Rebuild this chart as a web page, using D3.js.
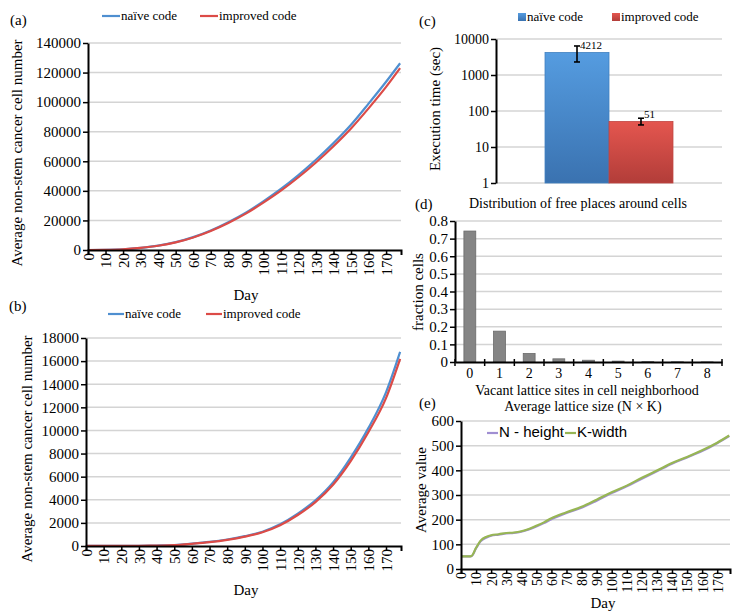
<!DOCTYPE html>
<html lang="en">
<head>
<meta charset="UTF-8">
<title>Cancer cell simulation</title>
<script src="https://d3js.org/d3.v7.min.js"></script>
<style>
  body { margin: 0; background: #fff; }
  text { font-family: "Liberation Serif", "Times New Roman", serif; fill: #000; }
</style>
</head>
<body>
<script>
// (a) all non-stem cells, (b) second run — every 10 days
var days = [0, 10, 20, 30, 40, 50, 60, 70, 80, 90, 100, 110, 120, 130, 140, 150, 160, 170, 178];
var naiveA = [0, 100, 500, 1500, 3000, 5300, 8700, 13200, 18800, 25300, 32900, 41300, 50700, 61000, 72300, 84700, 99000, 113800, 126300];
var improvedA = [0, 100, 480, 1450, 2900, 5150, 8500, 12900, 18300, 24600, 32000, 40100, 49200, 59200, 70200, 82200, 95800, 110300, 123000];
var naiveB = [5, 8, 12, 20, 40, 80, 200, 350, 560, 850, 1240, 1880, 2800, 3950, 5500, 7650, 10200, 13300, 16800];
var improvedB = [5, 8, 12, 20, 38, 75, 190, 330, 530, 810, 1190, 1800, 2680, 3800, 5300, 7350, 9850, 12800, 16200];
var seriesNames = ["naïve code", "improved code"];

// (c) execution time
var execTimes = [4212, 51];
var execLow = [2300, 41];
var execHigh = [6400, 63];

// (d) distribution of free places
var vacantSites = [0, 1, 2, 3, 4, 5, 6, 7, 8];
var fractionCells = [0.743, 0.175, 0.048, 0.018, 0.010, 0.005, 0.002, 0.001, 0.0005];

// (e) lattice size
var latticeDays = [0, 5, 7, 10, 13, 17, 20, 25, 30, 35, 40, 45, 50, 55, 60, 70, 80, 90, 100, 110, 120, 130, 140, 150, 160, 170, 178];
var nHeight = [51, 51, 52, 84, 112, 128, 135, 139, 144, 146, 151, 160, 172, 186, 202, 227, 248, 277, 308, 335, 366, 396, 427, 452, 478, 510, 539];
var kWidth = [51, 51, 53, 86, 115, 131, 137, 141, 146, 148, 153, 162, 175, 189, 206, 230, 252, 281, 311, 338, 370, 399, 430, 454, 481, 512, 541];
var latticeNames = ["N - height", "K-width"];

var dayTicks = d3.range(0, 171, 10);

var svg = d3.select("body").append("svg")
    .attr("width", 734)
    .attr("height", 613)
    .style("background-color", "#fff");

var blue = "#4f8fd0", red = "#dc4b47";

function styleAxis(g, size) {
    g.attr("font-family", "Liberation Serif, Times New Roman, serif").attr("font-size", size);
    g.select(".domain").attr("stroke", "#000").attr("stroke-width", 2);
    g.selectAll(".tick line").attr("stroke", "#000").attr("stroke-width", 1.5);
    g.selectAll(".tick text").attr("fill", "#000");
}

function gridLines(ticks, y, x0, x1) {
    svg.append("g").selectAll("line")
        .data(ticks)
        .enter().append("line")
        .attr("x1", x0).attr("x2", x1)
        .attr("y1", function (d) { return y(d); })
        .attr("y2", function (d) { return y(d); })
        .attr("stroke", "#d4d4d4")
        .attr("stroke-width", 1.5);
}

function label(x, y, txt, size, anchor, rot) {
    var t = svg.append("text")
        .attr("x", x).attr("y", y)
        .attr("font-size", size)
        .attr("text-anchor", anchor || "start")
        .text(txt);
    if (rot) t.attr("transform", "rotate(-90," + x + "," + y + ")");
    return t;
}

// line chart used for (a), (b) and (e)
function lineChart(o) {
    var x = d3.scaleLinear().domain([0, 178.5]).range([o.x0, o.x1]);
    var y = d3.scaleLinear().domain([0, o.yMax]).range([o.y0, o.y1]);
    gridLines(o.yTicks.slice(1), y, o.x0, o.x1);

    var line = d3.line()
        .x(function (d) { return x(d[0]); })
        .y(function (d) { return y(d[1]); })
        .curve(d3.curveMonotoneX);
    o.series.forEach(function (s, i) {
        svg.append("path")
            .datum(o.xs.map(function (d, j) { return [d, s[j]]; }))
            .attr("fill", "none")
            .attr("stroke", o.colors[i])
            .attr("stroke-width", 2.2)
            .attr("d", line);
    });

    var ya = svg.append("g").attr("transform", "translate(" + o.x0 + ",0)")
        .call(d3.axisLeft(y).tickValues(o.yTicks).tickSize(5).tickSizeOuter(0).tickPadding(2).tickFormat(d3.format("d")));
    styleAxis(ya, o.yFont);

    var xa = svg.append("g").attr("transform", "translate(0," + o.y0 + ")")
        .call(d3.axisBottom(x).tickValues(dayTicks).tickSize(5).tickSizeOuter(5));
    styleAxis(xa, o.xFont);
    xa.selectAll(".tick text")
        .attr("x", -3).attr("y", 0).attr("dy", "0.35em")
        .attr("transform", "rotate(-90)")
        .attr("text-anchor", "end");
    return { x: x, y: y };
}

// ---------- (a) ----------
label(10, 25, "(a)", 15);
lineChart({
    x0: 88, x1: 401, y0: 250, y1: 43, yMax: 140000,
    yTicks: d3.range(0, 140001, 20000), yFont: 15, xFont: 15,
    xs: days, series: [naiveA, improvedA], colors: [blue, red]
});
label(17, 153, "Average non-stem cancer cell number", 15, "middle", true).attr("dy", "0.35em");
label(246, 300, "Day", 15, "middle");

function lineLegend(items, colors, xs, y, len, size, family) {
    items.forEach(function (name, i) {
        svg.append("line")
            .attr("x1", xs[i]).attr("x2", xs[i] + len)
            .attr("y1", y).attr("y2", y)
            .attr("stroke", colors[i]).attr("stroke-width", 2.2);
        var t = label(xs[i] + len + 1, y + 4, name, size);
        if (family) t.style("font-family", family);
    });
}
lineLegend(seriesNames, [blue, red], [102, 200], 16, 18, 13);

// ---------- (b) ----------
label(9, 311, "(b)", 15);
lineChart({
    x0: 86, x1: 401, y0: 546, y1: 338, yMax: 18000,
    yTicks: d3.range(0, 18001, 2000), yFont: 15, xFont: 15,
    xs: days, series: [naiveB, improvedB], colors: [blue, red]
});
label(27, 449, "Average non-stem cancer cell number", 15, "middle", true).attr("dy", "0.35em");
label(246, 595, "Day", 15, "middle");
lineLegend(seriesNames, [blue, red], [108, 206], 314, 16, 13);

// ---------- (c) ----------
label(419, 26, "(c)", 15);
var defs = svg.append("defs");
[["gBlue", "#559ce0", "#3a72b0"], ["gRed", "#e4564f", "#b23d39"]].forEach(function (g) {
    var lg = defs.append("linearGradient").attr("id", g[0])
        .attr("x1", 0).attr("y1", 0).attr("x2", 0).attr("y2", 1);
    lg.append("stop").attr("offset", "0%").attr("stop-color", g[1]);
    lg.append("stop").attr("offset", "100%").attr("stop-color", g[2]);
});
var cy = d3.scaleLog().domain([1, 10000]).range([183, 39]);
var cx = d3.scaleBand().domain(seriesNames).range([496, 722]).paddingInner(0).paddingOuter(0.766);
var logTicks = [1, 10, 100, 1000, 10000];
gridLines(logTicks, cy, 496, 722);
svg.append("g").selectAll("rect")
    .data(execTimes)
    .enter().append("rect")
    .attr("x", function (d, i) { return cx(seriesNames[i]); })
    .attr("width", cx.bandwidth())
    .attr("y", function (d) { return cy(d); })
    .attr("height", function (d) { return cy(1) - cy(d); })
    .attr("fill", function (d, i) { return i === 0 ? "url(#gBlue)" : "url(#gRed)"; })
    .attr("stroke", function (d, i) { return i === 0 ? "#3f7fc0" : "#c04440"; })
    .attr("stroke-width", 0.8);
execTimes.forEach(function (v, i) {
    var ex = cx(seriesNames[i]) + cx.bandwidth() / 2;
    var g = svg.append("g").attr("stroke", "#000").attr("stroke-width", 1.6);
    g.append("line").attr("x1", ex).attr("x2", ex).attr("y1", cy(execHigh[i])).attr("y2", cy(execLow[i]));
    g.append("line").attr("x1", ex - 3).attr("x2", ex + 3).attr("y1", cy(execHigh[i])).attr("y2", cy(execHigh[i]));
    g.append("line").attr("x1", ex - 3).attr("x2", ex + 3).attr("y1", cy(execLow[i])).attr("y2", cy(execLow[i]));
    label(ex + 3, cy(v) - 4, String(v), 11);
});
var ca = svg.append("g").attr("transform", "translate(496,0)")
    .call(d3.axisLeft(cy).tickValues(logTicks).tickFormat(d3.format("d")).tickSize(5).tickSizeOuter(0).tickPadding(2));
styleAxis(ca, 14);
label(440, 109, "Execution time (sec)", 15, "middle", true);
[[518, blue], [612, red]].forEach(function (p, i) {
    svg.append("rect").attr("x", p[0]).attr("y", 13).attr("width", 8).attr("height", 8)
        .attr("fill", i === 0 ? "url(#gBlue)" : "url(#gRed)");
    label(p[0] + 9, 21, seriesNames[i], 13);
});

// ---------- (d) ----------
label(415, 209, "(d)", 15);
label(578, 208, "Distribution of free places around cells", 14, "middle");
var dx = d3.scaleBand().domain(vacantSites).range([455, 722]);
var dy = d3.scaleLinear().domain([0, 0.8]).range([362, 221]);
var fracTicks = d3.range(0, 0.81, 0.1);
gridLines(fracTicks.slice(1), dy, 455, 722);
svg.append("g").selectAll("rect")
    .data(fractionCells)
    .enter().append("rect")
    .attr("x", function (d, i) { return dx(vacantSites[i]) + dx.bandwidth() * 0.3; })
    .attr("width", dx.bandwidth() * 0.4)
    .attr("y", function (d) { return dy(d); })
    .attr("height", function (d) { return dy(0) - dy(d); })
    .attr("fill", "#858585")
    .attr("stroke", "#6a6a6a")
    .attr("stroke-width", 0.8);
var da = svg.append("g").attr("transform", "translate(455,0)")
    .call(d3.axisLeft(dy).tickValues(fracTicks).tickFormat(function (d) { return d === 0 ? "0" : d3.format(".1f")(d); })
        .tickSize(5).tickSizeOuter(0).tickPadding(2));
styleAxis(da, 15);
var dxa = svg.append("g").attr("transform", "translate(0,362)")
    .call(d3.axisBottom(dx).tickSize(0));
styleAxis(dxa, 14);
dxa.selectAll(".tick text").attr("y", 16).attr("dy", 0);
svg.append("g").selectAll("line")
    .data(vacantSites.map(function (d) { return dx(d); }).concat([722]))
    .enter().append("line")
    .attr("x1", function (d) { return d; }).attr("x2", function (d) { return d; })
    .attr("y1", 359).attr("y2", 366)
    .attr("stroke", "#000").attr("stroke-width", 1.5);
label(423, 292, "fraction cells", 15, "middle", true);
label(587, 395, "Vacant lattice sites in cell neighborhood", 14, "middle");

// ---------- (e) ----------
label(419, 408, "(e)", 15);
label(583, 411, "Average lattice size (N × K)", 14, "middle");
var purple = "#a08fd2", green = "#97b654";
lineChart({
    x0: 461, x1: 730, y0: 569, y1: 421, yMax: 600,
    yTicks: d3.range(0, 601, 100), yFont: 15, xFont: 14,
    xs: latticeDays, series: [nHeight, kWidth], colors: [purple, green]
});
label(426, 490, "Average value", 15, "middle", true);
label(603, 608, "Day", 15, "middle");
lineLegend(latticeNames, [purple, green], [487, 565], 433, 11, 15, "Liberation Sans, Arial, sans-serif");
</script>
</body>
</html>
